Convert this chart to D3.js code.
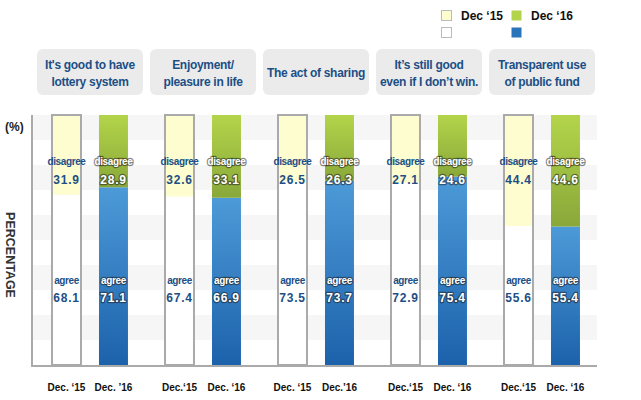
<!DOCTYPE html>
<html><head><meta charset="utf-8">
<script src="https://cdn.jsdelivr.net/npm/d3@7"></script>
<style>
html,body{margin:0;padding:0;background:#fff;}
svg{display:block;font-family:"Liberation Sans",Arial,sans-serif;}
</style></head>
<body>
<svg id="c" width="641" height="400"></svg>
<script>
const categories = [["It's good to have","lottery system"],["Enjoyment/","pleasure in life"],["The act of sharing"],["It’s still good","even if I don’t win."],["Transparent use","of public fund"]];
const disagree15 = [31.9, 32.6, 26.5, 27.1, 44.4];
const agree15 = [68.1, 67.4, 73.5, 72.9, 55.6];
const disagree16 = [28.9, 33.1, 26.3, 24.6, 44.6];
const agree16 = [71.1, 66.9, 73.7, 75.4, 55.4];
const labels15 = ["Dec. ‘15","Dec.‘15","Dec. ‘15","Dec.‘15","Dec.‘15"];
const labels16 = ["Dec. ’16","Dec. ‘16","Dec.’16","Dec. ‘16","Dec. ‘16"];
const seriesNames = ["Dec ‘15","Dec ‘16"];

const svg = d3.select("#c");
const pLeft = 32, pRight = 597, pTop = 115, pBottom = 365;
const x = d3.scaleBand().domain(d3.range(5)).range([pLeft, pRight]);
const y = d3.scaleLinear().domain([0, 100]).range([pBottom, pTop]);
const sub = d3.scaleBand().domain([0,1]).range([0, x.bandwidth()])
  .paddingInner(0.383).paddingOuter(0.394).align(0.54);

const defs = svg.append("defs");
const gG = defs.append("linearGradient").attr("id","gGreen").attr("x1",0).attr("y1",0).attr("x2",0).attr("y2",1);
gG.append("stop").attr("offset","0%").attr("stop-color","#b3d44a");
gG.append("stop").attr("offset","100%").attr("stop-color","#89a83a");
const gB = defs.append("linearGradient").attr("id","gBlue").attr("x1",0).attr("y1",0).attr("x2",0).attr("y2",1);
gB.append("stop").attr("offset","0%").attr("stop-color","#4d9ad8");
gB.append("stop").attr("offset","100%").attr("stop-color","#1c62ab");

// stripes
const stripes = d3.range(0, 100, 10).filter(v => (v/10) % 2 === 1);
svg.append("g").selectAll("rect").data(stripes).join("rect")
  .attr("x", pLeft).attr("width", pRight - pLeft)
  .attr("y", d => y(d + 10)).attr("height", d => y(d) - y(d + 10))
  .attr("fill", "#f6f6f6");

// category boxes
const cg = svg.append("g").selectAll("g").data(categories).join("g")
  .attr("transform", (d,i) => `translate(${x(i)+5},49)`);
cg.append("rect").attr("width", 106).attr("height", 46).attr("rx", 6).attr("fill", "#ebebeb");
cg.each(function(lines){
  const g = d3.select(this);
  const y0 = lines.length === 1 ? 28 : 20;
  lines.forEach((t,k) => g.append("text").attr("x", 53).attr("y", y0 + k*17)
    .attr("text-anchor","middle").attr("font-size", 12).attr("font-weight","bold")
    .attr("letter-spacing", -0.3)
    .attr("fill","#1c4f86").text(t));
});

// axis lines
svg.append("line").attr("x1", pLeft).attr("x2", pLeft).attr("y1", pTop).attr("y2", pBottom + 1)
  .attr("stroke", "#aaa").attr("stroke-width", 2);

// Dec 15 bars
const b15 = svg.append("g").selectAll("g").data(d3.range(5)).join("g")
  .attr("transform", i => `translate(${x(i) + sub(0)},0)`);
b15.append("rect").attr("x", 0).attr("width", sub.bandwidth())
  .attr("y", i => y(agree15[i])).attr("height", i => y(0) - y(agree15[i])).attr("fill", "#fff");
b15.append("rect").attr("x", 0).attr("width", sub.bandwidth())
  .attr("y", i => y(100)).attr("height", i => y(agree15[i]) - y(100)).attr("fill", "#fdfdcf");
b15.append("rect").attr("x", 0).attr("width", sub.bandwidth())
  .attr("y", y(100)).attr("height", y(0) - y(100))
  .attr("fill", "none").attr("stroke", "#aaa").attr("stroke-width", 2);

// Dec 16 bars
const b16 = svg.append("g").selectAll("g").data(d3.range(5)).join("g")
  .attr("transform", i => `translate(${x(i) + sub(1)},0)`);
b16.append("rect").attr("x", 0).attr("width", sub.bandwidth())
  .attr("y", i => y(agree16[i])).attr("height", i => y(0) - y(agree16[i])).attr("fill", "url(#gBlue)");
b16.append("rect").attr("x", 0).attr("width", sub.bandwidth())
  .attr("y", y(100)).attr("height", i => y(agree16[i]) - y(100)).attr("fill", "url(#gGreen)");

// baseline
svg.append("line").attr("x1", pLeft - 1).attr("x2", pRight).attr("y1", pBottom + 1).attr("y2", pBottom + 1)
  .attr("stroke", "#aaa").attr("stroke-width", 2);

// labels
function addLabels(g, vals, word, ty, vy, white) {
  const w = sub.bandwidth() / 2;
  [[word, ty, 10, -0.4], [null, vy, 12, 0.8]].forEach(([txt, yy, fs, ls], k) => {
    g.append("text").attr("x", w).attr("y", yy).attr("text-anchor", "middle")
      .attr("font-size", fs).attr("font-weight", "bold").attr("letter-spacing", ls)
      .attr("fill", white ? "#fff" : "#1c4f86")
      .attr("stroke", white ? "rgba(30,30,30,0.55)" : "none").attr("stroke-width", white ? 2.4 : 0)
      .attr("paint-order", "stroke").attr("stroke-linejoin", "round")
      .text(i => txt ? txt : vals[i].toFixed(1));
  });
}
addLabels(b15, disagree15, "disagree", 165, 184, false);
addLabels(b15, agree15, "agree", 284, 302, false);
addLabels(b16, disagree16, "disagree", 165, 184, true);
addLabels(b16, agree16, "agree", 284, 302, true);

// x labels
b15.append("text").attr("x", sub.bandwidth()/2).attr("y", 391).attr("text-anchor","middle")
  .attr("font-size", 10).attr("font-weight","bold").attr("fill","#111").text(i => labels15[i]);
b16.append("text").attr("x", sub.bandwidth()/2).attr("y", 391).attr("text-anchor","middle")
  .attr("font-size", 10).attr("font-weight","bold").attr("fill","#111").text(i => labels16[i]);

// y labels
svg.append("text").attr("x", 5).attr("y", 131).attr("font-size", 12).attr("font-weight","bold").attr("fill","#222").text("(%)");
svg.append("text").attr("transform","translate(6,255) rotate(90)").attr("text-anchor","middle")
  .attr("font-size", 12.5).attr("font-weight","bold").attr("fill","#333").text("PERCENTAGE");

// legend
const leg = svg.append("g");
const legItems = [
  {x:441, y:10, fill:"#fdfdcf", stroke:"#bbb", text:seriesNames[0]},
  {x:511, y:10, fill:"#b3d44a", stroke:"none", text:seriesNames[1]},
  {x:441, y:27, fill:"#fff", stroke:"#bbb", text:null},
  {x:511, y:27, fill:"#2a74bb", stroke:"none", text:null}
];
legItems.forEach(d => {
  leg.append("rect").attr("x", d.x + 0.5).attr("y", d.y + 0.5).attr("width", 10).attr("height", 10)
    .attr("fill", d.fill).attr("stroke", d.stroke);
  if (d.text) leg.append("text").attr("x", d.x + 20).attr("y", d.y + 10)
    .attr("font-size", 12).attr("font-weight","bold").attr("fill","#111").text(d.text);
});
</script>
</body></html>
